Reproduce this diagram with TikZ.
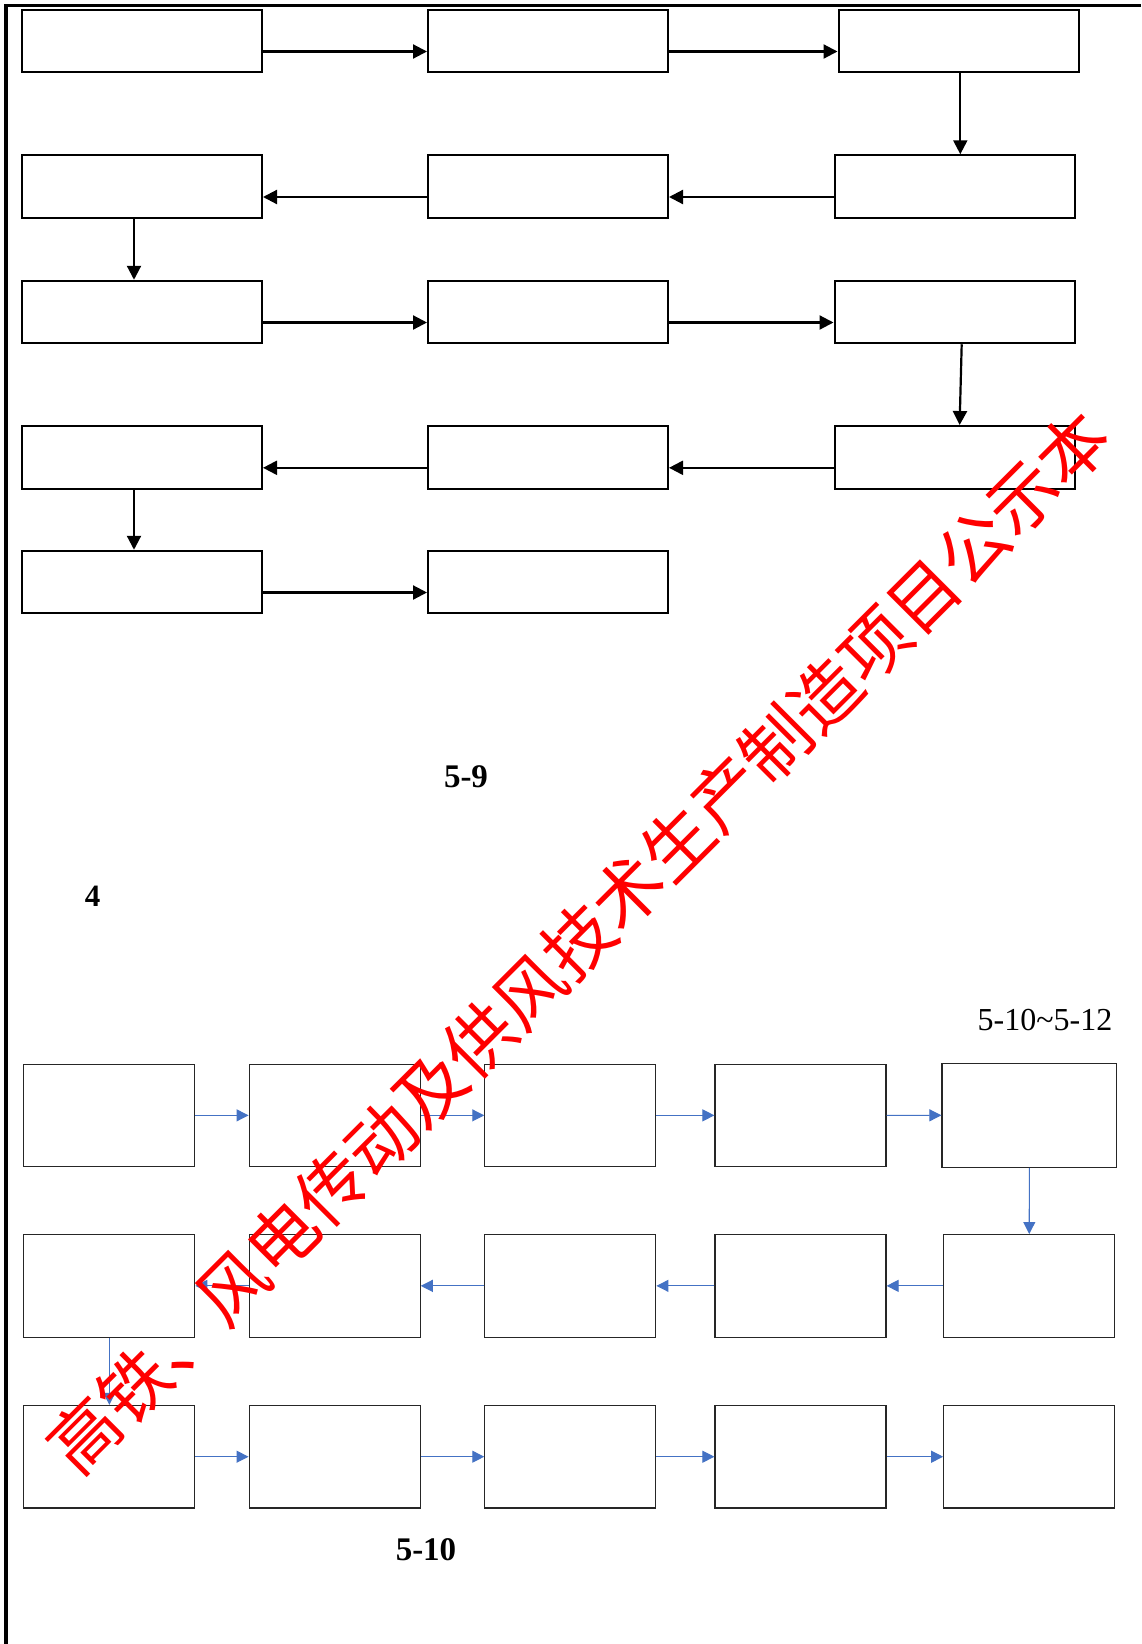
\documentclass[tikz,border=0pt]{standalone}
\usepackage{fontspec}
\setmainfont{Liberation Serif}
\newfontfamily\cjk{Noto Sans CJK SC}
\usetikzlibrary{arrows.meta}
\definecolor{wordblue}{HTML}{4472C4}
\begin{document}
\begin{tikzpicture}[x=1pt,y=-1pt,
  topbox/.style={draw=black, line width=2pt, minimum width=240pt, minimum height=62.5pt, inner sep=0pt},
  botbox/.style={draw=black!85, line width=1.2pt, minimum width=171pt, minimum height=102.5pt, inner sep=0pt},
  toparrow/.style={draw=black, line width=2.2pt, -{Triangle[length=14pt,width=14pt]}},
  botarrow/.style={draw=wordblue, line width=1.1pt, -{Triangle[length=12pt,width=12pt]}},
  lbl/.style={inner sep=0pt, font=\fontsize{32}{32}\selectfont}
]
\useasboundingbox (0,0) rectangle (1141,1644);
\fill[white] (0,0) rectangle (1141,1644);
% page border lines
\draw[line width=3.6pt] (1141,5.6) -- (5.8,5.6) -- (5.8,1644);

% top flow chart
\node[topbox] (t11) at (142,41) {};
\node[topbox] (t12) at (548,41) {};
\node[topbox] (t13) at (958.5,41) {};
\node[topbox] (t21) at (142,186.5) {};
\node[topbox] (t22) at (548,186.5) {};
\node[topbox] (t23) at (954.5,186.5) {};
\node[topbox] (t31) at (142,312) {};
\node[topbox] (t32) at (548,312) {};
\node[topbox] (t33) at (954.5,312) {};
\node[topbox] (t41) at (142,457.3) {};
\node[topbox] (t42) at (548,457.3) {};
\node[topbox] (t43) at (954.5,457.3) {};
\node[topbox] (t51) at (142,582) {};
\node[topbox] (t52) at (548,582) {};

\draw[toparrow] ([yshift=-10.5pt]t11.east) -- ([yshift=-10.5pt]t12.west);
\draw[toparrow] ([yshift=-10.5pt]t12.east) -- ([yshift=-10.5pt]t13.west);
\draw[toparrow] ([xshift=1.8pt]t13.south) -- ([xshift=5.8pt]t23.north);
\draw[toparrow] ([yshift=-10.5pt]t23.west) -- ([yshift=-10.5pt]t22.east);
\draw[toparrow] ([yshift=-10.5pt]t22.west) -- ([yshift=-10.5pt]t21.east);
\draw[toparrow] ([xshift=-8pt]t21.south) -- ([xshift=-8pt]t31.north);
\draw[toparrow] ([yshift=-10.5pt]t31.east) -- ([yshift=-10.5pt]t32.west);
\draw[toparrow] ([yshift=-10.5pt]t32.east) -- ([yshift=-10.5pt]t33.west);
\draw[toparrow] ([xshift=7.2pt]t33.south) -- ([xshift=5.1pt]t43.north);
\draw[toparrow] ([yshift=-10.5pt]t43.west) -- ([yshift=-10.5pt]t42.east);
\draw[toparrow] ([yshift=-10.5pt]t42.west) -- ([yshift=-10.5pt]t41.east);
\draw[toparrow] ([xshift=-8pt]t41.south) -- ([xshift=-8pt]t51.north);
\draw[toparrow] ([yshift=-10.5pt]t51.east) -- ([yshift=-10.5pt]t52.west);

% labels
\node[lbl, font=\fontsize{33}{33}\selectfont\bfseries] (l59) at (466,777) {5-9};
\node[lbl, font=\fontsize{31}{31}\selectfont\bfseries] (l4) at (92.7,896) {4};
\node[lbl] (lrange) at (1045,1020) {5-10\char`~5-12};
\node[lbl, font=\fontsize{33}{33}\selectfont\bfseries] (l510) at (426,1550) {5-10};

% bottom flow chart
\node[botbox] (b11) at (109.35,1115.35) {};
\node[botbox] (b12) at (334.65,1115.35) {};
\node[botbox] (b13) at (570.35,1115.35) {};
\node[botbox] (b14) at (800.5,1115.35) {};
\node[botbox, minimum width=174.7pt, minimum height=104pt] (b15) at (1029.35,1115.3) {};
\node[botbox] (b21) at (109.35,1285.85) {};
\node[botbox] (b22) at (334.65,1285.85) {};
\node[botbox] (b23) at (570.35,1285.85) {};
\node[botbox] (b24) at (800.5,1285.85) {};
\node[botbox] (b25) at (1029.25,1285.85) {};
\node[botbox] (b31) at (109.35,1456.7) {};
\node[botbox] (b32) at (334.65,1456.7) {};
\node[botbox] (b33) at (570.35,1456.7) {};
\node[botbox] (b34) at (800.5,1456.7) {};
\node[botbox] (b35) at (1029.25,1456.7) {};

\draw[botarrow] (b11.east) -- (b12.west);
\draw[botarrow] (b12.east) -- (b13.west);
\draw[botarrow] (b13.east) -- (b14.west);
\draw[botarrow] (b14.east) -- (b15.west);
\draw[botarrow] (b15.south) -- (b25.north);
\draw[botarrow] (b25.west) -- (b24.east);
\draw[botarrow] (b24.west) -- (b23.east);
\draw[botarrow] (b23.west) -- (b22.east);
\draw[botarrow] (b22.west) -- (b21.east);
\draw[botarrow] (b21.south) -- (b31.north);
\draw[botarrow] (b31.east) -- (b32.west);
\draw[botarrow] (b32.east) -- (b33.west);
\draw[botarrow] (b33.east) -- (b34.west);
\draw[botarrow] (b34.east) -- (b35.west);

% watermark
\node[text=red, rotate=45, inner sep=0pt, font=\cjk\fontsize{69.8}{69.8}\selectfont] (wm) at (578.5,941.5) {高铁、风电传动及供风技术生产制造项目公示本};
\end{tikzpicture}
\end{document}
